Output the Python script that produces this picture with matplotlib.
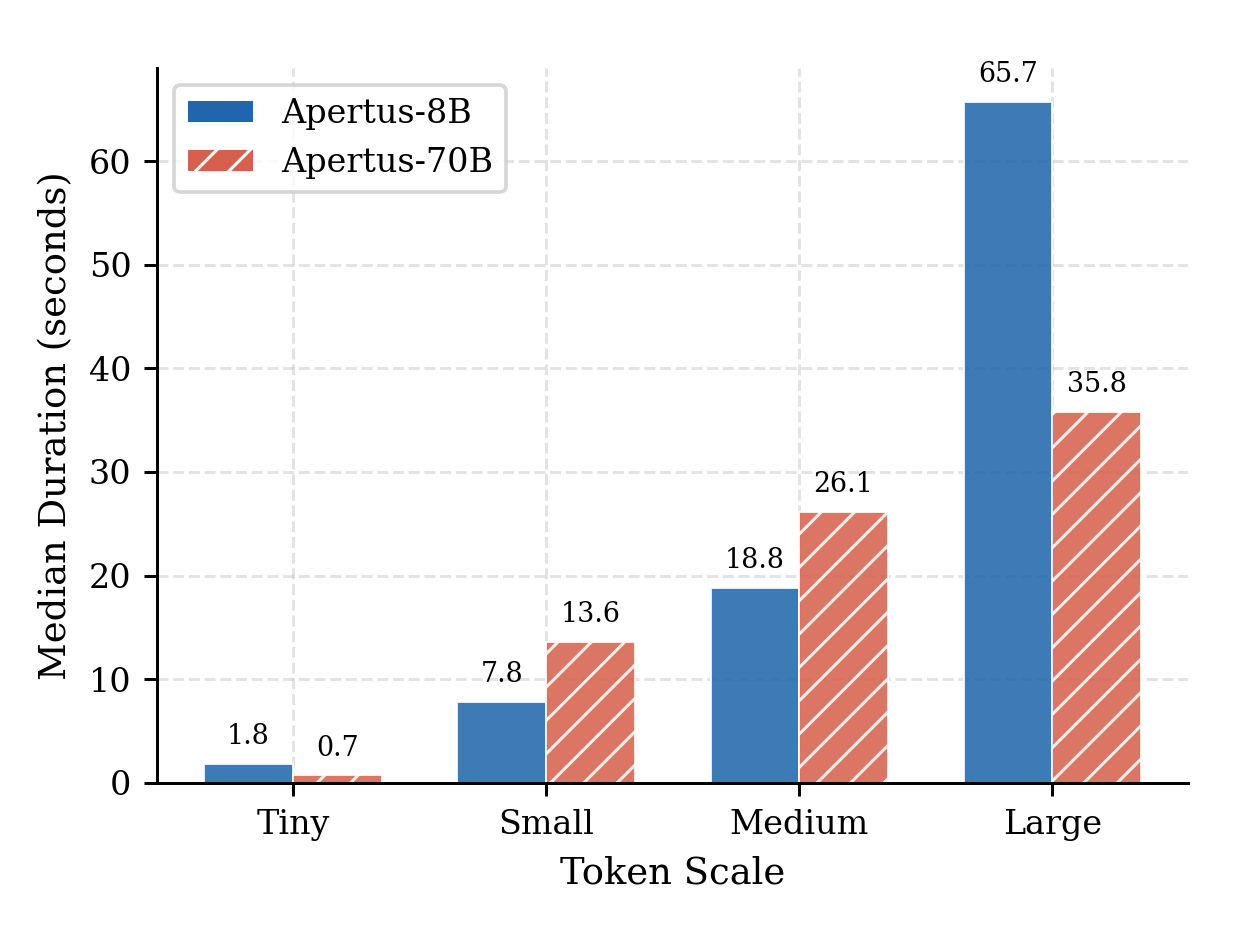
import numpy as np
import matplotlib.pyplot as plt
from matplotlib.patches import Patch

# Data
scales = ["Tiny", "Small", "Medium", "Large"]
apertus_8b = [1.8, 7.8, 18.8, 65.7]
apertus_70b = [0.7, 13.6, 26.1, 35.8]

k = 4 / 3  # line/tick scale
plt.rcParams.update({
    'font.family': 'DejaVu Serif',
    'hatch.color': 'white',
    'hatch.linewidth': 1.1,
    'axes.linewidth': 0.8 * k,
    'xtick.major.size': 3.5 * k, 'ytick.major.size': 3.5 * k,
    'xtick.major.width': 0.8 * k, 'ytick.major.width': 0.8 * k,
    'xtick.major.pad': 3.5 * k, 'ytick.major.pad': 3.5 * k,
    'axes.labelpad': 4.0 * k,
    'grid.linewidth': 0.8 * k,
})

blue = '#2166ac'
red = '#d6604d'

fig, ax = plt.subplots(figsize=(6.2, 4.67), dpi=200)

x = np.arange(len(scales))
width = 0.35

b1 = ax.bar(x - width / 2, apertus_8b, width,
            color=blue, alpha=0.87, edgecolor='white', linewidth=0.7)
b2 = ax.bar(x + width / 2, apertus_70b, width,
            color=red, alpha=0.87, edgecolor='white', linewidth=0.7, hatch='//')

# Value labels
for bars in (b1, b2):
    for bar in bars:
        h = bar.get_height()
        ax.annotate(f"{h:.1f}", xy=(bar.get_x() + bar.get_width() / 2, h),
                    xytext=(0, 5), textcoords='offset points',
                    ha='center', va='bottom', fontsize=9.7)

ax.set_xticks(x)
ax.set_xticklabels(scales, fontsize=12)
ax.tick_params(axis='y', labelsize=12)
ax.set_xlabel("Token Scale", fontsize=13.3)
ax.set_ylabel("Median Duration (seconds)", fontsize=13.3)
ax.set_ylim(0, max(apertus_8b) * 1.05)

ax.grid(True, linestyle='--', alpha=0.35)
ax.set_axisbelow(True)
ax.spines['top'].set_visible(False)
ax.spines['right'].set_visible(False)

handles = [Patch(facecolor=blue, edgecolor='white', linewidth=0.7, label="Apertus-8B"),
           Patch(facecolor=red, edgecolor='white', linewidth=0.7, hatch='//', label="Apertus-70B")]
leg = ax.legend(handles=handles, loc='upper left', fontsize=12)
leg.get_frame().set_linewidth(1.0 * k)

fig.subplots_adjust(left=0.127, right=0.958, top=0.927, bottom=0.162)
plt.savefig("out.png", dpi=200)
